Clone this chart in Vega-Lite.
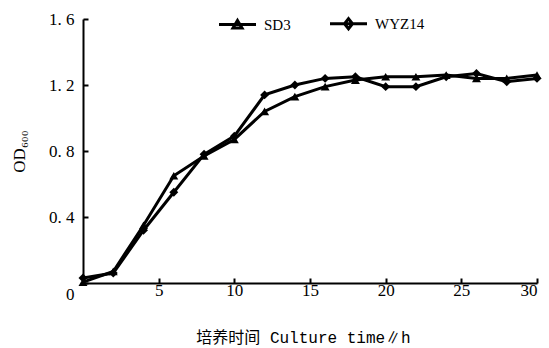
{
  "$schema": "https://vega.github.io/schema/vega-lite/v6.json",
  "width": 454,
  "height": 264,
  "autosize": "none",
  "padding": {"left": 83, "top": 19, "right": 12, "bottom": 65},
  "background": "white",
  "config": {
    "view": {"stroke": null},
    "font": "Liberation Serif",
    "axis": {
      "grid": false,
      "domainColor": "black",
      "domainWidth": 2,
      "tickColor": "black",
      "tickWidth": 2,
      "tickSize": -5,
      "labelColor": "black",
      "labelFont": "Liberation Serif",
      "labelFontSize": 17,
      "titleColor": "black",
      "titleFont": "Liberation Mono, Noto Sans CJK SC",
      "titleFontSize": 16,
      "titleFontWeight": "normal"
    }
  },
  "data": {
    "values": [
      {"time": 0, "od": 0.005, "strain": "SD3"},
      {"time": 2, "od": 0.07, "strain": "SD3"},
      {"time": 4, "od": 0.35, "strain": "SD3"},
      {"time": 6, "od": 0.65, "strain": "SD3"},
      {"time": 8, "od": 0.77, "strain": "SD3"},
      {"time": 10, "od": 0.87, "strain": "SD3"},
      {"time": 12, "od": 1.04, "strain": "SD3"},
      {"time": 14, "od": 1.13, "strain": "SD3"},
      {"time": 16, "od": 1.19, "strain": "SD3"},
      {"time": 18, "od": 1.23, "strain": "SD3"},
      {"time": 20, "od": 1.25, "strain": "SD3"},
      {"time": 22, "od": 1.25, "strain": "SD3"},
      {"time": 24, "od": 1.26, "strain": "SD3"},
      {"time": 26, "od": 1.24, "strain": "SD3"},
      {"time": 28, "od": 1.24, "strain": "SD3"},
      {"time": 30, "od": 1.26, "strain": "SD3"},
      {"time": 0, "od": 0.03, "strain": "WYZ14"},
      {"time": 2, "od": 0.06, "strain": "WYZ14"},
      {"time": 4, "od": 0.32, "strain": "WYZ14"},
      {"time": 6, "od": 0.55, "strain": "WYZ14"},
      {"time": 8, "od": 0.78, "strain": "WYZ14"},
      {"time": 10, "od": 0.89, "strain": "WYZ14"},
      {"time": 12, "od": 1.14, "strain": "WYZ14"},
      {"time": 14, "od": 1.2, "strain": "WYZ14"},
      {"time": 16, "od": 1.24, "strain": "WYZ14"},
      {"time": 18, "od": 1.25, "strain": "WYZ14"},
      {"time": 20, "od": 1.19, "strain": "WYZ14"},
      {"time": 22, "od": 1.19, "strain": "WYZ14"},
      {"time": 24, "od": 1.25, "strain": "WYZ14"},
      {"time": 26, "od": 1.27, "strain": "WYZ14"},
      {"time": 28, "od": 1.22, "strain": "WYZ14"},
      {"time": 30, "od": 1.24, "strain": "WYZ14"}
    ]
  },
  "encoding": {
    "x": {
      "field": "time", "type": "quantitative",
      "scale": {"domain": [0, 30], "nice": false},
      "axis": {
        "values": [0, 5, 10, 15, 20, 25, 30],
        "title": "培养时间 Culture time∥h",
        "labelPadding": 4,
        "titlePadding": 31,
        "titleX": 220,
        "labelExpr": "datum.value === 0 ? '' : datum.label"
      }
    },
    "y": {
      "field": "od", "type": "quantitative",
      "scale": {"domain": [0, 1.6], "nice": false},
      "axis": {
        "values": [0, 0.4, 0.8, 1.2, 1.6],
        "format": ".1~f",
        "labelExpr": "datum.value === 0 ? '0' : replace(datum.label, '.', '. ')",
        "labelPadding": 14,
        "labelAlign": "right",
        "labelOffset": {"condition": {"test": "datum.value === 0", "value": 11}, "value": 0},
        "title": "OD₆₀₀",
        "titleFont": "Liberation Serif",
        "titleFontSize": 17,
        "titlePadding": 20
      }
    }
  },
  "layer": [
    {
      "mark": {"type": "line", "color": "black", "strokeWidth": 3},
      "encoding": {"detail": {"field": "strain"}}
    },
    {
      "mark": {"type": "point", "filled": true, "color": "black", "opacity": 1, "size": 80},
      "encoding": {
        "shape": {
          "field": "strain", "type": "nominal",
          "scale": {"domain": ["SD3", "WYZ14"], "range": ["triangle-up", "diamond"]},
          "legend": null
        }
      }
    },
    {
      "mark": {"type": "point", "filled": false, "color": "black", "strokeWidth": 3, "opacity": 0, "size": 100},
      "encoding": {
        "shape": {
          "field": "strain", "type": "nominal",
          "scale": {
            "domain": ["SD3", "WYZ14"],
            "range": [
              "M-3.7,0L3.7,0M0,-0.8L0.9,0.7L-0.9,0.7Z",
              "M-3.7,0L3.7,0M0,-1L0.8,0L0,1L-0.8,0Z"
            ]
          },
          "legend": {
            "title": null,
            "orient": "none",
            "direction": "horizontal",
            "legendX": 147,
            "legendY": -3,
            "padding": 0,
            "symbolSize": 100,
            "symbolFillColor": "black",
            "symbolStrokeColor": "black",
            "symbolStrokeWidth": 3,
            "symbolOpacity": 1,
            "labelOffset": 19,
            "labelFont": "Liberation Serif",
            "labelFontSize": 15,
            "labelColor": "black",
            "columnPadding": 33
          }
        }
      }
    }
  ],
  "resolve": {"scale": {"shape": "independent"}}
}
